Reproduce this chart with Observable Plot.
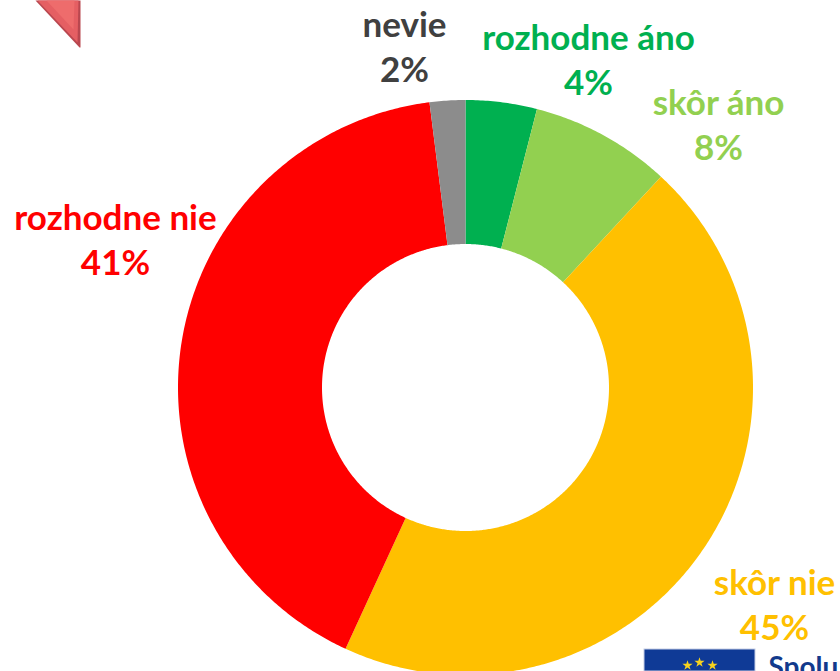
<!DOCTYPE html>
<html>
<head>
<meta charset="utf-8">
<style>html,body{margin:0;padding:0;background:#fff;overflow:hidden}svg{display:block}</style>
<script src="https://cdn.jsdelivr.net/npm/d3@7"></script>
<script src="https://cdn.jsdelivr.net/npm/@observablehq/plot@0.6"></script>
</head>
<body>
<script>
const categories = ["rozhodne áno", "skôr áno", "skôr nie", "rozhodne nie", "nevie"];
const values = [4, 7.9, 44.95, 41.15, 2];
const sliceColors = ["#00B050", "#92D050", "#FFC000", "#FF0000", "#8C8C8C"];
const labelColors = ["#00B050", "#92D050", "#FFC000", "#FF0000", "#404040"];
const labelX = [588, 718, 774, 115, 404];
const labelY = [58, 123, 603, 238, 45];

const W = 840, H = 671;
const cx = 465, cy = 387, R = 287.5, r = 143.5;
const total = d3.sum(values);

// Ring segment outline of one category, from its share of the total
function ring(start, end) {
  const n = Math.max(2, Math.ceil((end - start) * 7.2));
  const at = (f, rad) => {
    const a = (f / total) * 2 * Math.PI;
    return {x: cx + rad * Math.sin(a), y: cy - rad * Math.cos(a)};
  };
  const steps = d3.range(n + 1).map(i => start + (end - start) * i / n);
  return [...steps.map(f => at(f, R)), ...steps.reverse().map(f => at(f, r))];
}
const cumulative = d3.cumsum(values);
const slices = categories.map((c, i) => ({
  category: c, color: sliceColors[i],
  points: ring(i ? cumulative[i - 1] : 0, cumulative[i])
}));
const labels = categories.map((c, i) => ({
  text: `${c}\n${Math.round(values[i])}%`, x: labelX[i], y: labelY[i], color: labelColors[i]
}));

const poly = (pts, fill) => Plot.line(pts, {x: "x", y: "y", fill, stroke: "none"});

// Cropped decorations at the page corners
const arrowOuter = [{x: 35, y: 0}, {x: 79, y: 47}, {x: 80, y: 47}, {x: 80, y: 0}];
const arrowMid = [{x: 37, y: 0}, {x: 77, y: 42}, {x: 78, y: 0}];
const arrowInner = [{x: 46, y: 0}, {x: 73, y: 29}, {x: 74, y: 0}];
const flag = [{x1: 644, y1: 649, x2: 755, y2: 671}];
const stars = [
  {x: 687, y: 665}, {x: 699, y: 662}, {x: 712, y: 665}
];

const chart = Plot.plot({
  width: W, height: H,
  margin: 0,
  x: {domain: [0, W], range: [0, W], axis: null},
  y: {domain: [0, H], range: [0, H], axis: null},
  marks: [
    ...slices.map(s => poly(s.points, s.color)),
    poly(arrowOuter, "#b9474f"),
    poly(arrowMid, "#e55f63"),
    poly(arrowInner, "#ee6c6c"),
    Plot.rect(flag, {x1: "x1", y1: "y1", x2: "x2", y2: "y2", fill: "#0F3A96", stroke: "#c5cde6", strokeWidth: 1}),
    Plot.dot(stars, {x: "x", y: "y", symbol: "star", r: 3.2, fill: "#F7D21E", stroke: "none"}),
    Plot.text(["Spolu"], {x: 768, y: 668, text: d => d, textAnchor: "start", fill: "#123A8C",
      fontFamily: "Lato", fontWeight: 700, fontSize: 28}),
    Plot.text(labels, {
      x: "x", y: "y", text: "text", fill: d => d.color,
      fontFamily: "Lato", fontWeight: 700, fontSize: 35, lineHeight: 1.28, textAnchor: "middle"
    })
  ]
});
document.body.appendChild(chart);
</script>
</body>
</html>
